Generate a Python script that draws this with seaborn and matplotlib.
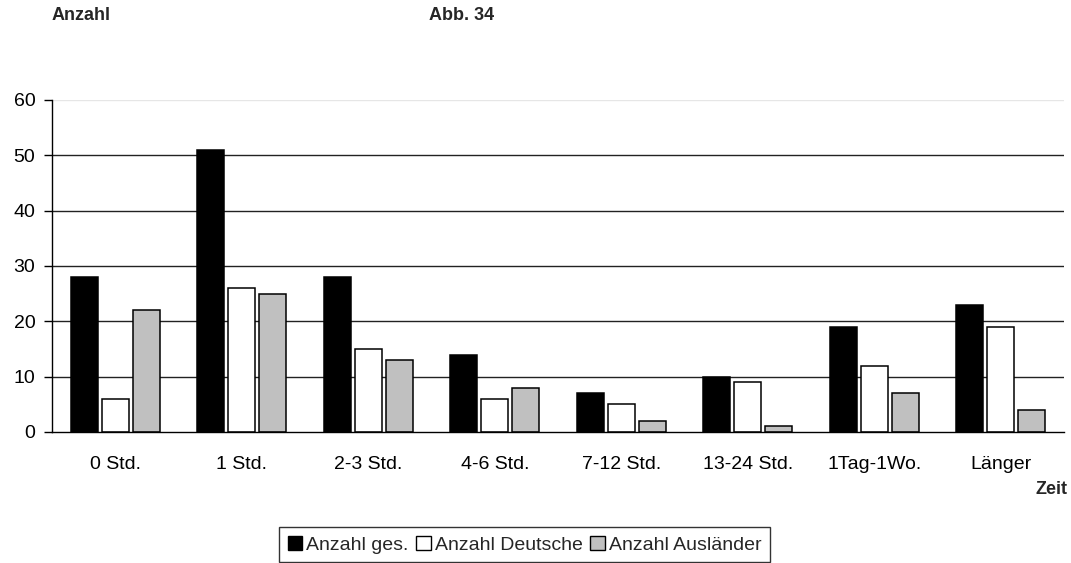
import pandas as pd
import numpy as np
import matplotlib
matplotlib.use("Agg")
import matplotlib.pyplot as plt
import seaborn as sns
from matplotlib.patches import Patch

# Chart data
categories = ["0 Std.", "1 Std.", "2-3 Std.", "4-6 Std.", "7-12 Std.",
              "13-24 Std.", "1Tag-1Wo.", "Länger"]
anzahl_ges = [28, 51, 28, 14, 7, 10, 19, 23]
anzahl_deutsche = [6, 26, 15, 6, 5, 9, 12, 19]
anzahl_auslaender = [22, 25, 13, 8, 2, 1, 7, 4]
series_names = ["Anzahl ges.", "Anzahl Deutsche", "Anzahl Ausländer"]
y_ticks = [0, 10, 20, 30, 40, 50, 60]

colors = ["#000000", "#ffffff", "#c0c0c0"]

# Long-form table for seaborn
df = pd.DataFrame({
    "Zeit": categories * 3,
    "Anzahl": anzahl_ges + anzahl_deutsche + anzahl_auslaender,
    "Serie": [s for s in series_names for _ in categories],
})

sns.set_style("white")
plt.rcParams["font.family"] = ["Liberation Sans", "DejaVu Sans"]

fig = plt.figure(figsize=(10.71, 5.63), dpi=100)
ax = fig.add_axes([0.0486, 0.2327, 0.945, 0.5897])

sns.barplot(data=df, x="Zeit", y="Anzahl", hue="Serie", order=categories,
            hue_order=series_names, palette=colors, width=0.735,
            edgecolor="black", linewidth=1.1, saturation=1, ax=ax,
            legend=False)

# Narrow each bar a little so there is a gap between bars of one group
for p in ax.patches:
    w = p.get_width()
    new_w = w * 0.87
    p.set_x(p.get_x() + (w - new_w) / 2)
    p.set_width(new_w)

ax.set_xlim(-0.5, len(categories) - 0.5)
ax.set_ylim(0, 60)
ax.set_yticks(y_ticks)

# Horizontal grid lines
for yv in y_ticks[1:-1]:
    ax.axhline(yv, color="#222222", lw=1.0, zorder=0)
ax.axhline(60, color="#e6e6e6", lw=1.0, zorder=0)

for side in ["top", "right"]:
    ax.spines[side].set_visible(False)
ax.spines["left"].set_color("black")
ax.spines["bottom"].set_color("black")
ax.spines["left"].set_linewidth(1.0)
ax.spines["bottom"].set_linewidth(1.0)

# Tick marks at category boundaries, labels at centres
ax.set_xticks(np.arange(-0.5, len(categories) + 0.5, 1), minor=True)
ax.tick_params(axis="x", which="minor", length=6, width=1, color="black",
               direction="out")
ax.tick_params(axis="x", which="major", length=0, pad=17.5, labelsize=14,
               labelcolor="black")
ax.tick_params(axis="y", which="major", length=6, width=1, color="black",
               direction="out", pad=6, labelsize=14, labelcolor="black",
               left=True)
ax.set_xlabel("")
ax.set_ylabel("")

# Texts
fig.text(52 / 1071, 1 - 15 / 563, "Anzahl", fontsize=13, fontweight="bold",
         ha="left", va="center")
fig.text(462 / 1071, 1 - 15 / 563, "Abb. 34", fontsize=13, fontweight="bold",
         ha="center", va="center")
fig.text(1067 / 1071, 1 - 490 / 563, "Zeit", fontsize=13, fontweight="bold",
         ha="right", va="center")

# Legend
handles = [Patch(facecolor=c, edgecolor="black", linewidth=1.0) for c in colors]
leg = fig.legend(handles, series_names, loc="upper center",
                 bbox_to_anchor=(524.5 / 1071, 1 - 527 / 563), ncol=3,
                 frameon=True, fancybox=False, fontsize=14,
                 handlelength=0.75, handleheight=0.75, handletextpad=0.2,
                 columnspacing=0.4, borderpad=0.45, borderaxespad=0)
leg.get_frame().set_edgecolor("black")
leg.get_frame().set_linewidth(1.0)

fig.savefig("out.png", dpi=100)
